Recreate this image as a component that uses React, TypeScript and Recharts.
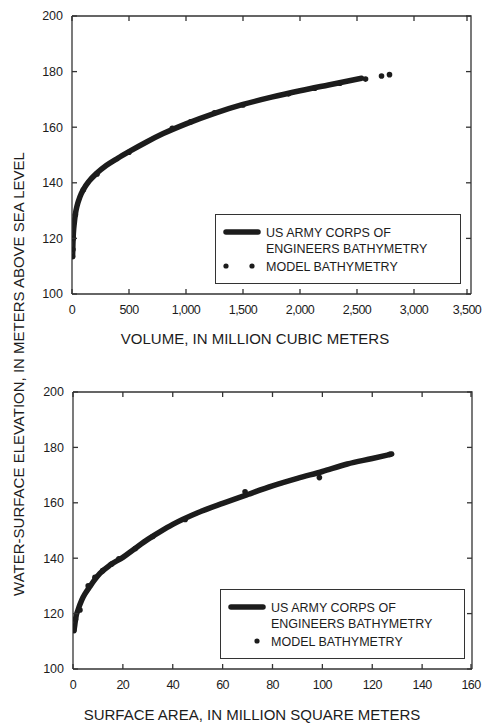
import React from 'react';
import { ComposedChart, Line, Scatter, XAxis, YAxis } from 'recharts';

// Elevation vs. volume (million m3)
const volCorpsV = [5, 8, 12, 20, 30, 45, 70, 100, 150, 216, 300, 400, 500, 650, 800, 1000, 1250, 1500, 1750, 2000, 2250, 2540];
const volCorpsE = [113.5, 118, 121.8, 125.5, 128.8, 131.8, 135, 137.6, 140.6, 143.4, 146.2, 148.8, 151.2, 154.6, 157.7, 161.2, 165, 168.2, 170.8, 173.1, 175.2, 177.6];
const volModelV = [5, 8, 12, 30, 100, 220, 500, 880, 1040, 1250, 1500, 1900, 2130, 2350, 2575, 2715, 2785];
const volModelE = [113.5, 116, 120, 128.5, 137.5, 143.2, 151, 159.6, 161.9, 165.2, 168, 172, 174, 175.8, 177.3, 178.4, 178.9];

// Elevation vs. surface area (million m2)
const areaCorpsA = [0.4, 0.8, 1.2, 2, 3.5, 5, 6.8, 8.5, 10.8, 15, 20, 25, 30, 35, 40, 50, 60, 70, 80, 90, 100, 110, 120, 127.8];
const areaCorpsE = [113.8, 116.5, 118.9, 121.3, 124.9, 127.4, 129.8, 132, 134.5, 137.6, 140.3, 143.6, 146.8, 149.6, 152.2, 156.4, 159.8, 163, 166.1, 168.8, 171.3, 174, 176, 177.6];
const areaModelA = [0.3, 0.5, 1, 2.8, 6.1, 8.8, 11.9, 15.5, 18.4, 25, 32, 45, 69, 98.8, 127];
const areaModelE = [114, 115.5, 118, 121.3, 130, 133.1, 135.5, 137.9, 139.8, 143.5, 147.8, 154, 164, 169.1, 177.5];

const volTicks = [0, 500, 1000, 1500, 2000, 2500, 3000, 3500];
const areaTicks = [0, 20, 40, 60, 80, 100, 120, 140, 160];
const elevTicks = [100, 120, 140, 160, 180, 200];

const FONT = '"Liberation Sans", Arial, sans-serif';
const INK = '#1c1c1c';
const AXIS = '#333333';
const W = 483;
const X_AXIS_H = 30;

const pairs = (xs: number[], ys: number[]) => xs.map((x, i) => ({ x, e: ys[i] }));

const Dot = (props: any) => {
  const { cx, cy } = props;
  if (cx == null || cy == null) return null;
  return <circle cx={cx} cy={cy} r={2.8} fill={INK} />;
};

const fmt = (v: number) => v.toLocaleString('en-US');

interface Box { top: number; bottom: number; left: number; right: number }

// x tick: label below, inward marks on the bottom and top edges
const XTick = (props: any) => {
  const { x, payload, index, box } = props as { x: number; payload: { value: number }; index: number; box: Box };
  return (
    <g>
      {index === 0 && (
        <path
          d={`M${box.left},${box.top}H${box.right}V${box.bottom}`}
          fill="none"
          stroke={AXIS}
          strokeWidth={1.3}
        />
      )}
      <line x1={x} x2={x} y1={box.bottom} y2={box.bottom - 5} stroke={AXIS} strokeWidth={1.3} />
      <line x1={x} x2={x} y1={box.top} y2={box.top + 5} stroke={AXIS} strokeWidth={1.3} />
      <text x={x} y={box.bottom + 11} dy="0.71em" textAnchor="middle" fontSize={12.5} fontFamily={FONT} fill={INK} letterSpacing={-0.6}>
        {fmt(payload.value)}
      </text>
    </g>
  );
};

// y tick: label left, inward marks on the left and right edges
const YTick = (props: any) => {
  const { y, payload, box } = props as { y: number; payload: { value: number }; box: Box };
  return (
    <g>
      <line x1={box.left} x2={box.left + 5} y1={y} y2={y} stroke={AXIS} strokeWidth={1.3} />
      <line x1={box.right} x2={box.right - 5} y1={y} y2={y} stroke={AXIS} strokeWidth={1.3} />
      <text x={box.left - 9} y={y} dy="0.355em" textAnchor="end" fontSize={12.5} fontFamily={FONT} fill={INK}>
        {payload.value}
      </text>
    </g>
  );
};

function LegendBox({ left, top, width, twoDots, offset }: { left: number; top: number; width: number; twoDots: boolean; offset: number }) {
  const height = 70;
  const textX = offset + 42;
  return (
    <svg width={width} height={height} style={{ position: 'absolute', left, top }}>
      <rect x={0.5} y={0.5} width={width - 1} height={height - 1} fill="#fff" stroke={AXIS} />
      <line x1={offset + 2} x2={offset + 34} y1={18} y2={18} stroke={INK} strokeWidth={5.5} strokeLinecap="round" />
      {twoDots && <circle cx={offset + 2} cy={52} r={2.6} fill={INK} />}
      <circle cx={offset + 28} cy={52} r={2.6} fill={INK} />
      <text x={textX} y={22.5} fontSize={12.5} fill={INK} fontFamily={FONT}>US ARMY CORPS OF</text>
      <text x={textX} y={38.5} fontSize={12.5} fill={INK} fontFamily={FONT}>ENGINEERS BATHYMETRY</text>
      <text x={textX} y={56.5} fontSize={12.5} fill={INK} fontFamily={FONT}>MODEL BATHYMETRY</text>
    </svg>
  );
}

interface PanelProps {
  top: number;
  height: number;
  margin: { top: number; right: number; bottom: number; left: number };
  yWidth: number;
  corps: { x: number; e: number }[];
  model: { x: number; e: number }[];
  xMax: number;
  xTicks: number[];
}

function Panel({ top, height, margin, yWidth, corps, model, xMax, xTicks }: PanelProps) {
  const box: Box = {
    top: margin.top,
    bottom: height - margin.bottom - X_AXIS_H,
    left: margin.left + yWidth,
    right: W - margin.right,
  };
  return (
    <div style={{ position: 'absolute', left: 0, top, width: W, height }}>
      <ComposedChart width={W} height={height} margin={margin}>
        <XAxis
          dataKey="x"
          type="number"
          domain={[0, xMax]}
          ticks={xTicks}
          tick={(p: any) => <XTick {...p} box={box} />}
          tickLine={false}
          stroke={AXIS}
          strokeWidth={1.3}
          height={X_AXIS_H}
          allowDataOverflow
        />
        <YAxis
          type="number"
          domain={[100, 200]}
          ticks={elevTicks}
          tick={(p: any) => <YTick {...p} box={box} />}
          tickLine={false}
          stroke={AXIS}
          strokeWidth={1.3}
          width={yWidth}
          allowDataOverflow
        />
        <Scatter data={model} dataKey="e" shape={<Dot />} isAnimationActive={false} />
        <Line
          data={corps}
          dataKey="e"
          type="monotone"
          stroke={INK}
          strokeWidth={5.5}
          strokeLinecap="round"
          dot={false}
          activeDot={false}
          isAnimationActive={false}
        />
      </ComposedChart>
    </div>
  );
}

export default function App() {
  return (
    <div style={{ position: 'absolute', left: 0, top: 0, width: W, height: 723, background: '#fff', fontFamily: FONT, overflow: 'hidden' }}>
      <Panel
        top={0}
        height={350}
        margin={{ top: 16, right: 12, bottom: 26, left: 0 }}
        yWidth={72}
        corps={pairs(volCorpsV, volCorpsE)}
        model={pairs(volModelV, volModelE)}
        xMax={3500}
        xTicks={volTicks}
      />
      <LegendBox left={215} top={214} width={246} twoDots offset={9} />
      <Panel
        top={360}
        height={363}
        margin={{ top: 32, right: 11, bottom: 24, left: 0 }}
        yWidth={73}
        corps={pairs(areaCorpsA, areaCorpsE)}
        model={pairs(areaModelA, areaModelE)}
        xMax={160}
        xTicks={areaTicks}
      />
      <LegendBox left={220} top={589} width={245} twoDots={false} offset={9} />
      <div style={{ position: 'absolute', left: 0, width: 510, top: 330, textAlign: 'center', fontSize: 15, color: INK, lineHeight: '18px' }}>
        VOLUME, IN MILLION CUBIC METERS
      </div>
      <div style={{ position: 'absolute', left: 0, width: 504, top: 706, textAlign: 'center', fontSize: 15, color: INK, lineHeight: '18px' }}>
        SURFACE AREA, IN MILLION SQUARE METERS
      </div>
      <div
        style={{
          position: 'absolute',
          left: 19 - 300,
          top: 374 - 9,
          width: 600,
          height: 18,
          lineHeight: '18px',
          textAlign: 'center',
          fontSize: 15,
          color: INK,
          transform: 'rotate(-90deg)',
          whiteSpace: 'nowrap',
        }}
      >
        WATER-SURFACE ELEVATION, IN METERS ABOVE SEA LEVEL
      </div>
    </div>
  );
}
